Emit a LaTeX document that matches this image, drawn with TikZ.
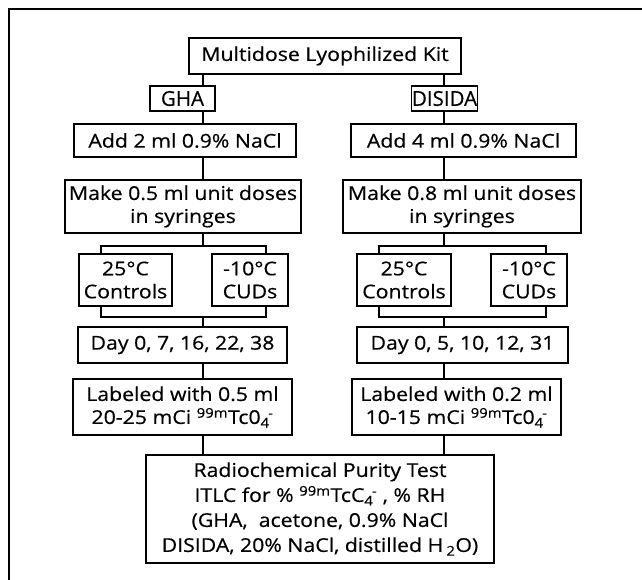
\documentclass[tikz,border=0pt]{standalone}
\usepackage{fontspec}
\setmainfont{Open Sans}[FakeStretch=1.12, FakeBold=0.5]
\newfontfamily\tagfont{Open Sans}[FakeStretch=1.0, FakeBold=0.5]
% subscript followed by a superscript tucked just after it
\newcommand{\ionsub}[2]{\textsubscript{#1}\kern-1.5pt\textsuperscript{#2}}
\tikzset{
  stepbox/.style={draw, line width=1.1pt, inner sep=0pt, align=center,
    font=\fontsize{19}{23}\selectfont},
  tagbox/.style={stepbox, font=\tagfont\fontsize{20.5}{22}\selectfont},
  link/.style={line width=1.1pt},
  frameline/.style={line width=2pt}
}
\begin{document}
\begin{tikzpicture}[x=1pt, y=-1pt]
\useasboundingbox (0,0) rectangle (642,580);
\clip (0,0) rectangle (642,580);

% outer frame (only top and left edges fall inside the page)
\draw[frameline] (9,600) -- (9,9) -- (660,9);

% spines of the two columns
\coordinate (sL) at (203,0);
\coordinate (sR) at (444,0);

% boxes
\node[stepbox, minimum width=272pt, minimum height=36pt] (kit) at (325,56) {Multidose Lyophilized Kit};
\node[tagbox, minimum width=65pt, minimum height=25pt] (gha) at (182.5,98.5) {GHA};
\node[tagbox, minimum width=56pt, minimum height=25pt] (dis) at (444.5,98.5) {DISIDA};

\node[stepbox, minimum width=222pt, minimum height=33pt] (addL) at (185,140.5) {Add 2 ml 0.9\% NaCl};
\node[stepbox, minimum width=225pt, minimum height=33pt] (addR) at (463.5,140.5) {Add 4 ml 0.9\% NaCl};

\node[stepbox, minimum width=236pt, minimum height=53pt] (makeL) at (183,206.5) {Make 0.5 ml unit doses\\in syringes};
\node[stepbox, minimum width=238pt, minimum height=53pt] (makeR) at (462,206.5) {Make 0.8 ml unit doses\\in syringes};

\node[stepbox, minimum width=93pt, minimum height=52pt] (ctlL) at (125.5,280) {25°C\\Controls};
\node[stepbox, minimum width=76pt, minimum height=52pt] (cudL) at (250,280) {-10°C\\CUDs};
\node[stepbox, minimum width=94pt, minimum height=52pt] (ctlR) at (404,280) {25°C\\Controls};
\node[stepbox, minimum width=76pt, minimum height=52pt] (cudR) at (529,280) {-10°C\\CUDs};

\node[stepbox, minimum width=209pt, minimum height=36pt] (dayL) at (182.5,345) {Day 0, 7, 16, 22, 38};
\node[stepbox, minimum width=211pt, minimum height=36pt] (dayR) at (462.5,345) {Day 0, 5, 10, 12, 31};

\node[stepbox, minimum width=219pt, minimum height=56pt] (labL) at (182.5,407)
  {Labeled with 0.5 ml\\20-25 mCi \textsuperscript{99m}Tc0\ionsub{4}{-}};
\node[stepbox, minimum width=209pt, minimum height=56pt] (labR) at (456.5,407)
  {Labeled with 0.2 ml\\10-15 mCi \textsuperscript{99m}Tc0\ionsub{4}{-}};

\node[stepbox, font=\fontsize{19}{25}\selectfont, minimum width=348pt, minimum height=108pt] (rcp) at (320,509)
  {Radiochemical Purity Test\\
   ITLC for \% \textsuperscript{99m}TcC\ionsub{4}{-} , \% RH\\
   (GHA,\ \ acetone, 0.9\% NaCl\\
   DISIDA, 20\% NaCl, distilled H\,\textsubscript{2}O)};

% bracket corners
\coordinate (bL1) at (101,246);
\coordinate (bL2) at (266,246);
\coordinate (bL3) at (101,317);
\coordinate (bL4) at (266,317);
\coordinate (bR1) at (379,246);
\coordinate (bR2) at (546,246);
\coordinate (bR3) at (379,317);
\coordinate (bR4) at (546,317);

% left column connectors
\draw[link] (kit.south -| sL) -- (gha.north -| sL);
\draw[link] (gha.south -| sL) -- (addL.north -| sL);
\draw[link] (addL.south -| sL) -- (makeL.north -| sL);
\draw[link] (makeL.south -| sL) -- (sL |- bL1);
\draw[link] (ctlL.north -| bL1) -- (bL1) -- (bL2) -- (cudL.north -| bL2);
\draw[link] (ctlL.south -| bL3) -- (bL3) -- (bL4) -- (cudL.south -| bL4);
\draw[link] (sL |- bL3) -- (dayL.north -| sL);
\draw[link] (dayL.south -| sL) -- (labL.north -| sL);
\draw[link] (labL.south -| sL) -- (rcp.north -| sL);

% right column connectors
\draw[link] (kit.south -| sR) -- (dis.north -| sR);
\draw[link] (dis.south -| sR) -- (addR.north -| sR);
\draw[link] (addR.south -| sR) -- (makeR.north -| sR);
\draw[link] (makeR.south -| sR) -- (sR |- bR1);
\draw[link] (ctlR.north -| bR1) -- (bR1) -- (bR2) -- (cudR.north -| bR2);
\draw[link] (ctlR.south -| bR3) -- (bR3) -- (bR4) -- (cudR.south -| bR4);
\draw[link] (sR |- bR3) -- (dayR.north -| sR);
\draw[link] (dayR.south -| sR) -- (labR.north -| sR);
\draw[link] (labR.south -| sR) -- (rcp.north -| sR);
\end{tikzpicture}
\end{document}
